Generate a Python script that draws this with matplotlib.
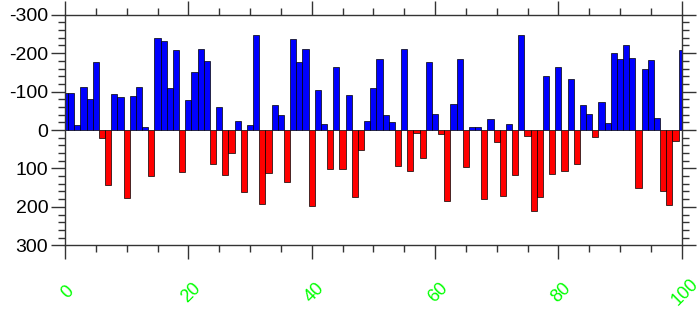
import numpy as np
import matplotlib
matplotlib.use("Agg")
import matplotlib.pyplot as plt
from matplotlib.ticker import MultipleLocator
from matplotlib.transforms import ScaledTranslation

plt.rcParams["font.family"] = ["Liberation Sans", "DejaVu Sans"]
plt.rcParams["axes.unicode_minus"] = False

# bar values, one per x position 0..100 (y axis is reversed: negative up)
x_pos = np.arange(0, 101)
values = [
    -95, -95, -13, -112, -80, -176, 20, 143, -94, -87,
    178, -89, -113, -9, 119, -240, -232, -110, -209, 108,
    -78, -151, -211, -179, 89, -61, 116, 59, -23, 162,
    -13, -248, 192, 111, -64, -39, 134, -237, -177, -210,
    197, -103, -15, 102, -165, 101, -90, 175, 51, -23,
    -110, -184, -39, -20, 93, -212, 107, 7, 74, -177,
    -42, 11, 184, -67, -184, 96, -9, -9, 179, -29,
    32, 172, -16, 116, -248, 16, 212, 175, -140, 115,
    -165, 106, -133, 88, -66, -42, 19, -73, -17, -200,
    -184, -220, -187, 150, -158, -183, -31, 158, 196, 28,
    -209,
]
x_ticks = [0, 20, 40, 60, 80, 100]
x_tick_labels = ["0", "20", "40", "60", "80", "100"]
y_ticks = [-300, -200, -100, 0, 100, 200, 300]
y_tick_labels = ["-300", "-200", "-100", "0", "100", "200", "300"]

values = np.array(values)
colors = np.where(values < 0, "#0000ff", "#ff0000")

fig = plt.figure(figsize=(7.0, 3.13), dpi=100)
ax = fig.add_axes([65 / 700, 1 - 245.3 / 313, 616.7 / 700, 230.6 / 313])

ax.bar(x_pos, values, width=1.0, color=colors, edgecolor="black",
       linewidth=0.5, align="center")

ax.set_xlim(0, 100)
ax.set_ylim(300, -300)

ax.xaxis.set_minor_locator(MultipleLocator(5))
ax.yaxis.set_minor_locator(MultipleLocator(20))
ax.set_xticks(x_ticks)
ax.set_xticklabels(x_tick_labels)
ax.set_yticks(y_ticks)
ax.set_yticklabels(y_tick_labels)

ax.tick_params(which="both", direction="out", top=True, right=True,
               color="#333333", width=1.0)
ax.tick_params(which="major", length=10)
ax.tick_params(which="minor", length=5)
ax.tick_params(axis="y", labelsize=14, pad=2)
ax.tick_params(axis="x", labelsize=13, pad=24, labelcolor="#00ff00")

# green labels sit a little right of their ticks, turned 45 degrees
shift = ScaledTranslation(3 / 100, 0, fig.dpi_scale_trans)
for lab in ax.get_xticklabels():
    lab.set_rotation(45)
    lab.set_rotation_mode("anchor")
    lab.set_ha("center")
    lab.set_va("center")
    lab.set_transform(lab.get_transform() + shift)

for sp in ax.spines.values():
    sp.set_linewidth(1.0)
    sp.set_color("#333333")

fig.savefig("out.png", dpi=100)
